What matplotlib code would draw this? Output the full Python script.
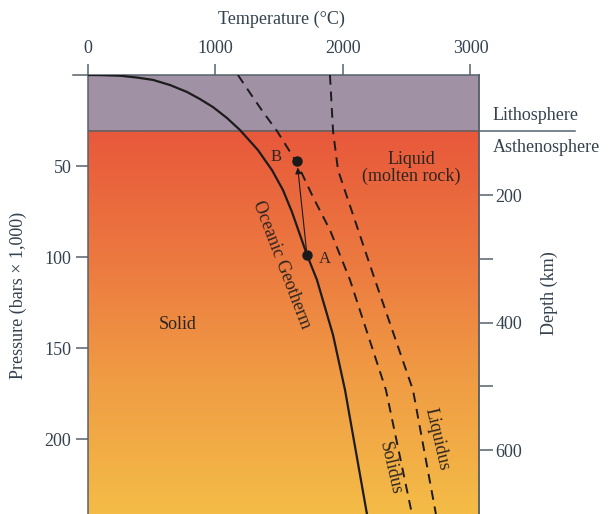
import numpy as np
import matplotlib
matplotlib.use('Agg')
import matplotlib.pyplot as plt
from matplotlib.colors import LinearSegmentedColormap

# values: temperature (C) vs pressure (bars x 1000)
geo_T = [0, 94, 251, 384, 510, 643, 776, 878, 980, 1090, 1192, 1333, 1443, 1529, 1600, 1718, 1796, 1922, 2016, 2188]
geo_P = [0, 0.05, 0.4, 1.4, 2.7, 5.5, 9.3, 13.2, 17.6, 23.6, 30.2, 41.2, 52.2, 63.1, 75.2, 98.8, 112.5, 142.7, 172.9, 241]

solidus_T = [1176, 1271, 1373, 1482, 1639, 1765, 1898, 2055, 2337, 2541]
solidus_P = [0, 9.9, 20.3, 30.7, 48.3, 67, 85.1, 112.5, 172.9, 241]

liquidus_T = [1898, 1922, 1961, 2251, 2400, 2549, 2729]
liquidus_P = [0, 30.7, 52.2, 112.5, 142.7, 172.9, 241]

point_A = (1718, 99)
point_B = (1639, 47)

litho_base = 30.5          # pressure at lithosphere / asthenosphere boundary
T_max = 3067
P_max = 241

temp_ticks = [0, 1000, 2000, 3000]
press_ticks = [50, 100, 150, 200]
depth_ticks = [200, 300, 400, 500, 600]
depth_labels = ['200', '', '400', '', '600']

# depth (km) = km_per_P * P + km_offset
km_per_P = 2.857
km_offset = 11.7

txt = '#34414e'
ink = '#2e2520'
axcol = '#56626c'

plt.rcParams['font.family'] = ['Liberation Serif', 'DejaVu Serif']

fig = plt.figure(figsize=(6.08, 5.14), dpi=100)
fig.patch.set_facecolor('white')
ax = fig.add_axes([88/608, 0, 391/608, 439/514])

# backgrounds
ax.axhspan(0, litho_base, color='#a191a5', zorder=0)
cmap = LinearSegmentedColormap.from_list('astheno', [(0, '#e8583b'), (0.35, '#ec7a40'),
                                                     (0.65, '#f09c44'), (1, '#f4bc47')])
grad = np.linspace(0, 1, 256).reshape(-1, 1)
ax.imshow(grad, cmap=cmap, extent=[0, T_max, P_max, litho_base], aspect='auto', zorder=0)
ax.axhline(litho_base, color=axcol, lw=1.1, zorder=1)
ax.plot([1, 1.2455], [litho_base, litho_base], color=axcol, lw=1.1,
        transform=ax.get_yaxis_transform(), clip_on=False)

# curves
ax.plot(geo_T, geo_P, color='#1c1c1c', lw=1.6, zorder=3)
ax.plot(solidus_T, solidus_P, color='#1c1c1c', lw=1.4, dashes=(5, 3.5), zorder=3)
ax.plot(liquidus_T, liquidus_P, color='#1c1c1c', lw=1.4, dashes=(5, 3.5), zorder=3)

ax.plot(*point_A, 'o', color='#1a1a1a', ms=6.5, zorder=4)
ax.plot(*point_B, 'o', color='#1a1a1a', ms=6.5, zorder=4)
ax.annotate('', xy=point_B, xytext=point_A,
            arrowprops=dict(arrowstyle='-|>', color='#1a1a1a', lw=0.8,
                            mutation_scale=9, shrinkA=4, shrinkB=5), zorder=4)

ax.set_xlim(0, T_max)
ax.set_ylim(P_max, 0)

# axes styling
ax.xaxis.tick_top()
ax.set_xticks(temp_ticks)
ax.set_yticks(press_ticks)
ax.tick_params(axis='x', direction='out', length=8, width=1.1, color=axcol,
               labelsize=13, labelcolor=txt, pad=5)
ax.tick_params(axis='y', direction='out', length=9, width=1.1, color=axcol,
               labelsize=13, labelcolor=txt, pad=3)
for s in ['top', 'left', 'right']:
    ax.spines[s].set_color(axcol)
    ax.spines[s].set_linewidth(1.1)
ax.spines['bottom'].set_visible(False)
ax.plot([-0.038, 0], [1, 1], color=axcol, lw=1.1, transform=ax.transAxes, clip_on=False)

sec = ax.secondary_yaxis('right', functions=(lambda p: km_per_P * p + km_offset,
                                             lambda d: (d - km_offset) / km_per_P))
sec.set_yticks(depth_ticks)
sec.set_yticklabels(depth_labels)
sec.tick_params(direction='out', length=10, width=1.1, color=axcol,
                labelsize=13, labelcolor=txt, pad=2)
sec.spines['right'].set_color(axcol)
sec.spines['right'].set_linewidth(1.1)

# labels
fig.text(281/608, 1 - 19/514, 'Temperature (°C)', ha='center', va='center', fontsize=13, color=txt)
fig.text(18/608, 1 - 295/514, 'Pressure (bars × 1,000)', ha='center', va='center',
         rotation=90, fontsize=13, color=txt)
fig.text(549/608, 1 - 293/514, 'Depth (km)', ha='center', va='center',
         rotation=90, fontsize=13, color=txt)
fig.text(493/608, 1 - 115/514, 'Lithosphere', ha='left', va='center', fontsize=13, color=txt)
fig.text(493/608, 1 - 147/514, 'Asthenosphere', ha='left', va='center', fontsize=13, color=txt)

ax.text(2535, 51, 'Liquid\n(molten rock)', ha='center', va='center', fontsize=13,
        color=ink, linespacing=1.0)
ax.text(705, 137, 'Solid', ha='center', va='center', fontsize=13, color=ink)
ax.text(1475, 45, 'B', ha='center', va='center', fontsize=12, color=ink)
ax.text(1860, 101, 'A', ha='center', va='center', fontsize=12, color=ink)
ax.text(1515, 104, 'Oceanic Geotherm', ha='center', va='center', rotation=-69,
        fontsize=13, color=ink)
ax.text(2370, 216, 'Solidus', ha='center', va='center', rotation=-77, fontsize=13, color=ink)
ax.text(2735, 200, 'Liquidus', ha='center', va='center', rotation=-77, fontsize=13, color=ink)

fig.savefig('out.png', dpi=100)
